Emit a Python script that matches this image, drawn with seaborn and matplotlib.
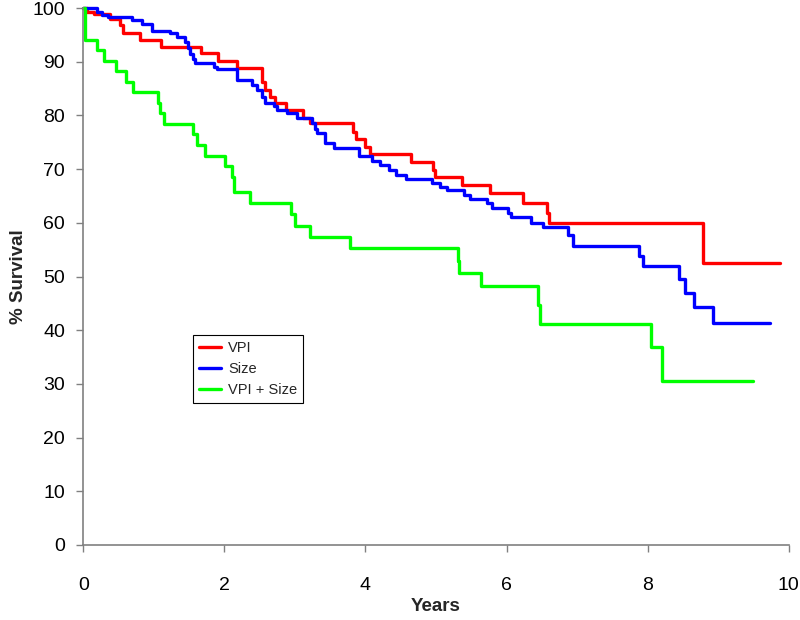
import pandas as pd
import matplotlib
matplotlib.use("Agg")
import matplotlib.pyplot as plt
import seaborn as sns

# Kaplan-Meier style curves (step after each time)
vpi_t = [0, 0.05, 0.15, 0.38, 0.52, 0.56, 0.81, 1.10, 1.67, 1.91, 2.18, 2.54, 2.58,
         2.65, 2.72, 2.88, 3.11, 3.22, 3.83, 3.87, 3.99, 4.06, 4.64, 4.96, 4.99,
         5.37, 5.76, 6.23, 6.57, 6.60, 8.79, 9.87]
vpi_s = [100, 99.3, 98.9, 97.9, 96.8, 95.3, 94.0, 92.8, 91.7, 90.2, 88.9, 86.3, 84.7,
         83.5, 82.4, 81.1, 79.6, 78.5, 77.0, 75.7, 74.2, 72.8, 71.4, 69.8, 68.5,
         67.0, 65.5, 63.7, 61.8, 60.0, 52.6, 52.6]

size_t = [0, 0.19, 0.26, 0.35, 0.69, 0.83, 0.97, 1.23, 1.33, 1.44, 1.49, 1.52, 1.55,
          1.59, 1.85, 1.89, 2.18, 2.39, 2.46, 2.53, 2.58, 2.70, 2.74, 2.89, 3.03,
          3.24, 3.28, 3.31, 3.43, 3.55, 3.91, 4.10, 4.21, 4.33, 4.43, 4.58, 4.95,
          5.06, 5.15, 5.39, 5.48, 5.72, 5.80, 6.02, 6.06, 6.34, 6.52, 6.87, 6.94,
          7.88, 7.94, 8.45, 8.53, 8.65, 8.93, 9.74]
size_s = [100, 99.3, 98.7, 98.3, 97.8, 97.0, 95.8, 95.3, 94.7, 93.7, 92.5, 91.5, 90.5,
          89.7, 89.1, 88.6, 86.6, 85.7, 84.7, 83.5, 82.4, 81.8, 81.1, 80.5, 79.6,
          78.5, 77.5, 76.7, 74.8, 73.9, 72.4, 71.5, 70.8, 69.8, 69.0, 68.1, 67.4,
          66.7, 66.1, 65.2, 64.4, 63.6, 62.7, 61.9, 61.1, 60.0, 59.2, 57.7, 55.7,
          53.8, 52.0, 49.5, 47.0, 44.3, 41.3, 41.3]

both_t = [0, 0.02, 0.19, 0.30, 0.47, 0.60, 0.71, 1.06, 1.09, 1.14, 1.55, 1.61, 1.73,
          2.01, 2.11, 2.14, 2.36, 2.95, 3.00, 3.22, 3.78, 5.31, 5.33, 5.64, 6.45,
          6.47, 8.05, 8.20, 9.49]
both_s = [100, 94.1, 92.2, 90.2, 88.2, 86.3, 84.3, 82.4, 80.4, 78.4, 76.5, 74.5, 72.5,
          70.6, 68.6, 65.8, 63.7, 61.6, 59.4, 57.3, 55.3, 52.9, 50.6, 48.2, 44.7,
          41.2, 36.8, 30.6, 30.6]

labels = ["VPI", "Size", "VPI + Size"]
colors = ["#ff0000", "#0000ff", "#00ff00"]

df = pd.concat([
    pd.DataFrame({"Years": vpi_t, "Survival": vpi_s, "group": labels[0]}),
    pd.DataFrame({"Years": size_t, "Survival": size_s, "group": labels[1]}),
    pd.DataFrame({"Years": both_t, "Survival": both_s, "group": labels[2]}),
])

sns.set_style("white")
plt.rcParams["font.family"] = ["Liberation Sans", "DejaVu Sans"]

fig = plt.figure(figsize=(8, 6.2), dpi=100)
ax = fig.add_axes([0.104, 0.121, 0.882, 0.866])

sns.lineplot(data=df, x="Years", y="Survival", hue="group", hue_order=labels,
             palette=dict(zip(labels, colors)), estimator=None, sort=False,
             drawstyle="steps-post", linewidth=2.4, ax=ax, clip_on=False)

ax.set_xlim(0, 10)
ax.set_ylim(0, 100)
ax.set_xticks(range(0, 11, 2))
ax.set_yticks(range(0, 101, 10))
for s in ["top", "right"]:
    ax.spines[s].set_visible(False)
for s in ["left", "bottom"]:
    ax.spines[s].set_color("#808080")
    ax.spines[s].set_linewidth(1.2)
ax.tick_params(axis="both", direction="out", length=5, width=1, color="#808080",
               labelsize=14, labelcolor="black")
ax.tick_params(axis="x", pad=18, bottom=True)
ax.tick_params(axis="y", pad=8, left=True)

ax.set_xlabel("Years", fontsize=13.5, fontweight="bold", labelpad=3)
ax.set_ylabel("% Survival", fontsize=13.5, fontweight="bold", labelpad=4)

handles, labs = ax.get_legend_handles_labels()
ax.legend(handles, labs, loc="upper left", bbox_to_anchor=(0.156, 0.391),
          borderaxespad=0, fancybox=False, edgecolor="black", framealpha=1,
          fontsize=10.5, handlelength=1.5, handletextpad=0.5, title=None)
ax.get_legend().get_frame().set_linewidth(0.8)

fig.savefig("out.png", dpi=100)
